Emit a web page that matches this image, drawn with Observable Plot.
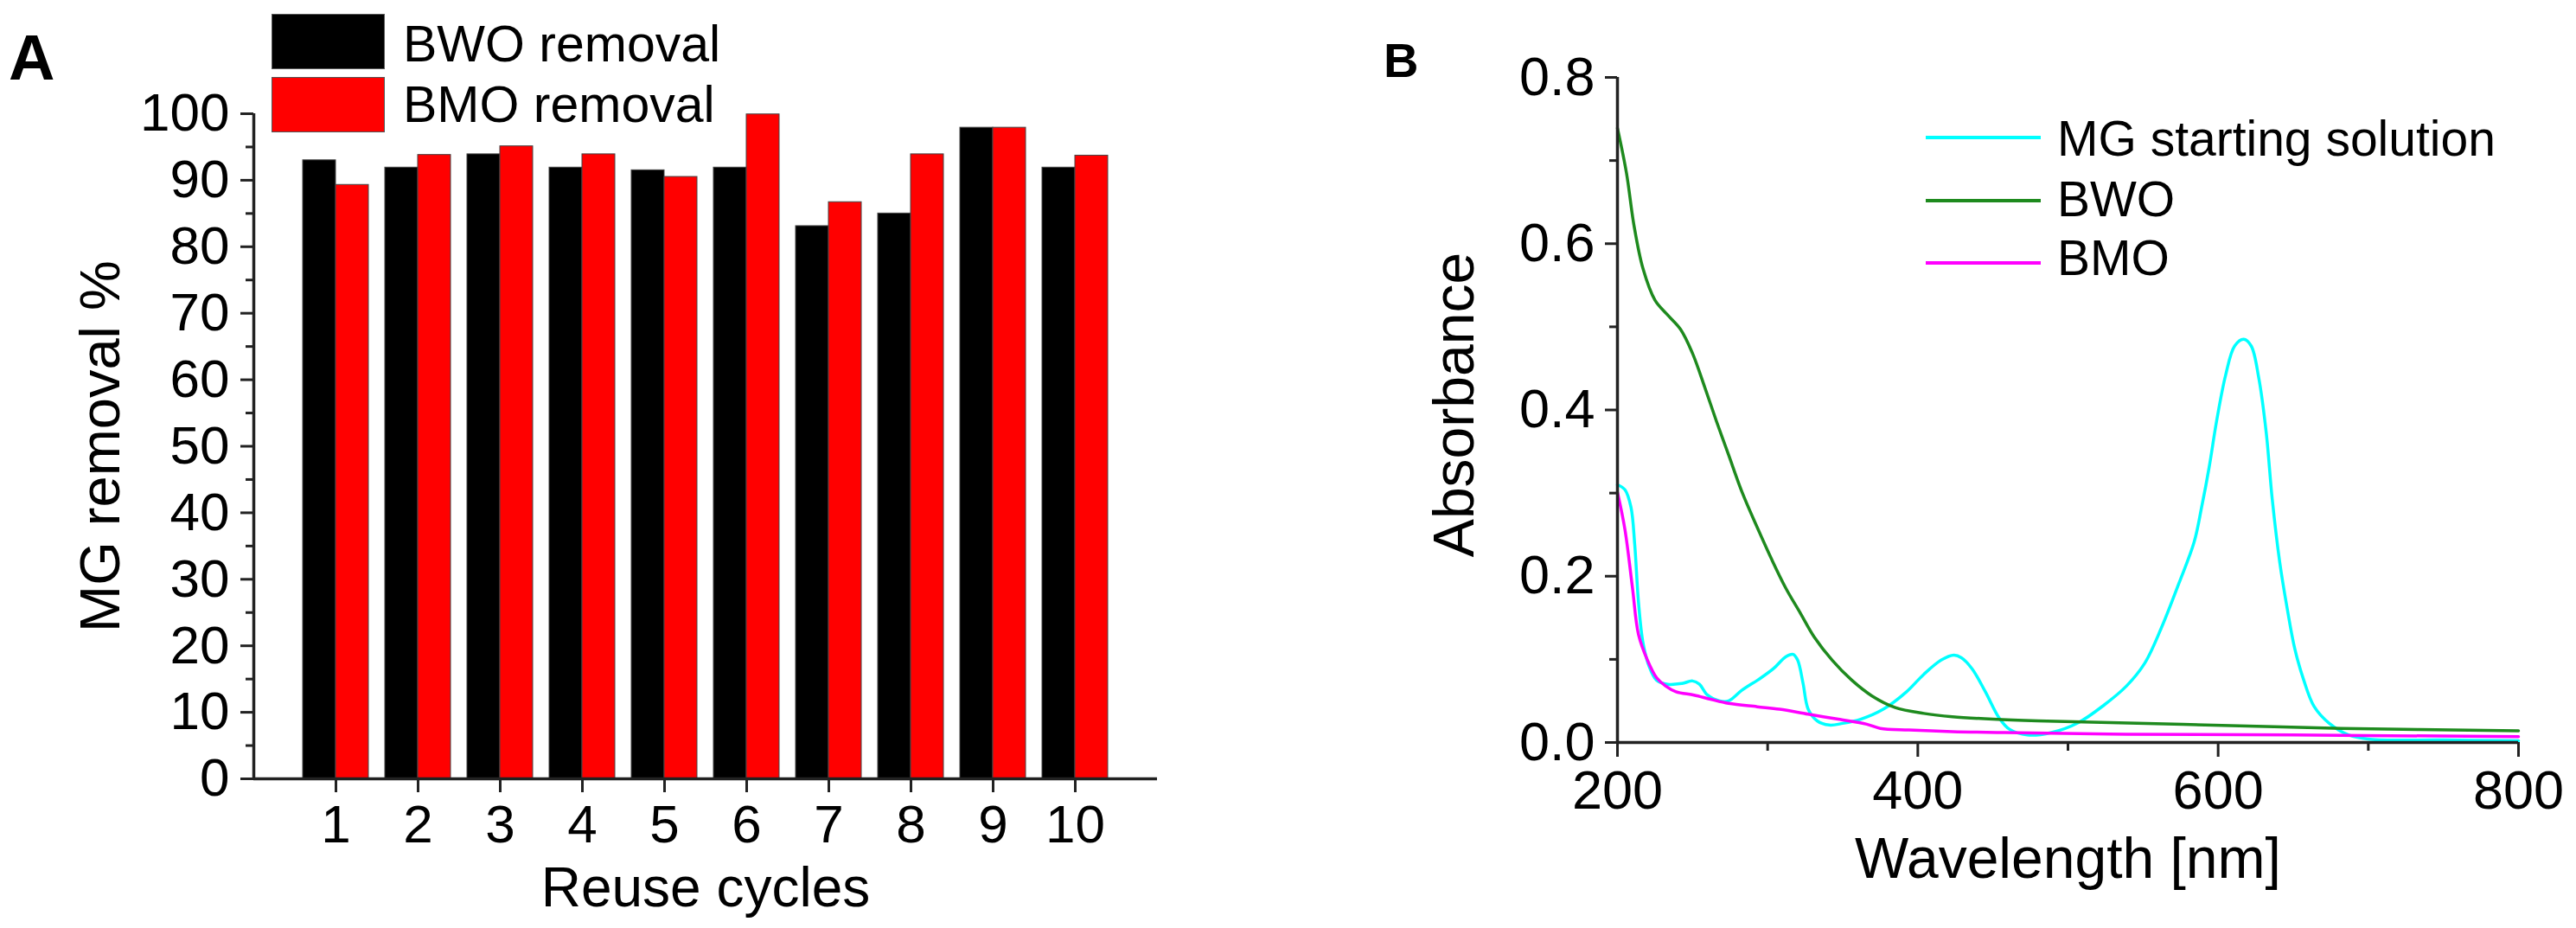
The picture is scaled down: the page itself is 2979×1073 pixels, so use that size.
<!DOCTYPE html>
<html>
<head>
<meta charset="utf-8">
<script src="https://cdn.jsdelivr.net/npm/d3@7"></script>
<script src="https://cdn.jsdelivr.net/npm/@observablehq/plot@0.6"></script>
<style>
  html, body { margin: 0; padding: 0; background: #fff; }
  #root { position: relative; width: 2979px; height: 1073px; overflow: hidden;
          font-family: "Liberation Sans", Arial, sans-serif; color: #000; }
  #panelA { position: absolute; left: 0; top: 0; width: 1480px; height: 1073px; }
  #panelB { position: absolute; left: 1480px; top: 0; width: 1499px; height: 1073px; }
  .lbl { position: absolute; white-space: nowrap; line-height: 1; }
  .box { position: absolute; box-sizing: border-box; border: 1px solid #555; }
  .swatch { position: absolute; height: 4px; }
</style>
</head>
<body>
<div id="root">
  <div id="panelA"></div>
  <div id="panelB"></div>
  <div class="lbl" style="left:10px;top:30px;font-size:74px;font-weight:bold;">A</div>
  <div class="lbl" style="left:1600px;top:42px;font-size:56px;font-weight:bold;">B</div>
  <div id="legendA"></div>
  <div id="legendB"></div>
</div>
<script>
// ---------- Panel A data ----------
const cycles = [1, 2, 3, 4, 5, 6, 7, 8, 9, 10];
const bwoRemoval = [93.0, 91.9, 93.9, 91.9, 91.5, 91.9, 83.1, 85.0, 97.9, 91.9];
const bmoRemoval = [89.3, 93.8, 95.1, 93.9, 90.5, 99.9, 86.7, 93.9, 97.9, 93.7];
const seriesA = ["BWO removal", "BMO removal"];
const colorsA = ["#000000", "#ff0000"];
const yTicksA = [0, 10, 20, 30, 40, 50, 60, 70, 80, 90, 100];
const yMinorA = [5, 15, 25, 35, 45, 55, 65, 75, 85, 95];

// ---------- Panel B data ----------
const mgWavelength = [200, 205, 209, 211.5, 214, 217, 221, 226, 233.5, 243, 250, 254.6, 260, 268, 274, 283, 295, 304, 312, 317, 320, 323.6, 327, 333, 341, 350, 362, 377, 392.5, 404, 415.5, 424, 429, 436, 445, 454, 461, 473, 489, 507, 524, 539, 551, 562, 574, 584, 589, 594, 599, 605, 611, 617, 622, 627, 632, 636, 641, 646, 651, 657, 664, 674, 687, 701, 750, 800];
const mgAbsorbance = [0.310, 0.304, 0.283, 0.238, 0.169, 0.120, 0.092, 0.075, 0.070, 0.071, 0.074, 0.070, 0.057, 0.050, 0.050, 0.063, 0.077, 0.089, 0.103, 0.106, 0.099, 0.071, 0.040, 0.026, 0.021, 0.023, 0.028, 0.040, 0.061, 0.082, 0.099, 0.105, 0.102, 0.089, 0.061, 0.030, 0.016, 0.009, 0.012, 0.024, 0.045, 0.068, 0.095, 0.137, 0.192, 0.241, 0.283, 0.331, 0.387, 0.442, 0.477, 0.485, 0.477, 0.439, 0.373, 0.293, 0.217, 0.161, 0.113, 0.075, 0.043, 0.023, 0.009, 0.004, 0.003, 0.002];

const bwoWavelength = [200, 206, 211, 217, 225, 233, 242, 250, 258, 266, 274, 283, 293, 302.5, 312, 322, 331, 343, 356, 369.5, 385, 404, 423, 450, 480, 528, 614, 682, 800];
const bwoAbsorbance = [0.739, 0.685, 0.622, 0.570, 0.532, 0.515, 0.497, 0.468, 0.428, 0.386, 0.346, 0.301, 0.259, 0.221, 0.186, 0.155, 0.127, 0.099, 0.075, 0.056, 0.042, 0.035, 0.031, 0.028, 0.026, 0.024, 0.020, 0.017, 0.014];

const bmoWavelength = [200, 205, 210, 214, 220, 226, 232, 239, 251, 262, 274, 293, 308, 327, 347, 366, 375, 394, 423, 458, 539, 650, 800];
const bmoAbsorbance = [0.301, 0.256, 0.186, 0.130, 0.099, 0.078, 0.068, 0.061, 0.057, 0.052, 0.047, 0.043, 0.040, 0.034, 0.028, 0.022, 0.017, 0.015, 0.013, 0.012, 0.010, 0.009, 0.007];

const seriesB = ["MG starting solution", "BWO", "BMO"];
const colorsB = ["#00ffff", "#1e8a1e", "#ff00ff"];
const xTicksB = [200, 400, 600, 800];
const xMinorB = [300, 500, 700];
const yTicksB = [0, 0.2, 0.4, 0.6, 0.8];
const yMinorB = [0.1, 0.3, 0.5, 0.7];

// ---------- tables built from the arrays ----------
const barWidth = 0.4;
const barsA = cycles.flatMap((c, i) => [
  {cycle: c, series: seriesA[0], value: bwoRemoval[i], side: -1},
  {cycle: c, series: seriesA[1], value: bmoRemoval[i], side: 0}
]);

const toRows = (name, xs, ys) => xs.map((x, i) => ({series: name, wavelength: x, absorbance: ys[i]}));
const linesB = [
  toRows(seriesB[0], mgWavelength, mgAbsorbance),
  toRows(seriesB[1], bwoWavelength, bwoAbsorbance),
  toRows(seriesB[2], bmoWavelength, bmoAbsorbance)
];

const FONT = "Liberation Sans, Arial, sans-serif";
const AX = "#222";
const titleOpts = {text: d => d, textAnchor: "middle", lineAnchor: "middle", fill: "#000"};

// ---------- Panel A ----------
const plotA = Plot.plot({
  width: 1480, height: 1073,
  marginLeft: 293, marginRight: 142, marginTop: 131, marginBottom: 173,
  style: {background: "transparent", fontFamily: FONT, overflow: "visible", maxWidth: "none"},
  x: {domain: [0, 11], label: null},
  y: {domain: [0, 100], label: null},
  color: {domain: seriesA, range: colorsA},
  marks: [
    Plot.rectY(barsA, {
      x1: d => d.cycle + d.side * barWidth,
      x2: d => d.cycle + (d.side + 1) * barWidth,
      y1: 0, y2: "value",
      fill: "series", stroke: "#444", strokeWidth: 1
    }),
    Plot.axisY({ticks: yTicksA, tickSize: 15, tickPadding: 13, fontSize: 62, stroke: AX, strokeWidth: 3, fill: "#000", label: null}),
    Plot.axisY({ticks: yMinorA, tickSize: 9, tickFormat: () => "", stroke: AX, strokeWidth: 3, label: null}),
    Plot.axisX({ticks: cycles, tickSize: 16, tickPadding: 13, fontSize: 62, stroke: AX, strokeWidth: 3, fill: "#000", label: null}),
    Plot.ruleX([0], {stroke: AX, strokeWidth: 3.5}),
    Plot.ruleY([0], {stroke: AX, strokeWidth: 3.5}),
    Plot.text(["Reuse cycles"], {...titleOpts, frameAnchor: "bottom", dy: 127, fontSize: 64}),
    Plot.text(["MG removal %"], {...titleOpts, frameAnchor: "left", dx: -176, rotate: -90, fontSize: 65})
  ]
});
document.getElementById("panelA").appendChild(plotA);

// ---------- Panel B ----------
const plotB = Plot.plot({
  width: 1499, height: 1073,
  marginLeft: 390, marginRight: 67, marginTop: 89, marginBottom: 215,
  style: {background: "transparent", fontFamily: FONT, overflow: "visible", maxWidth: "none"},
  x: {domain: [200, 800], label: null},
  y: {domain: [0, 0.8], label: null},
  marks: [
    ...linesB.map((rows, k) => Plot.line(rows, {
      x: "wavelength", y: "absorbance", stroke: colorsB[k], strokeWidth: 3.5, curve: "catmull-rom"
    })),
    Plot.axisY({ticks: yTicksB, tickFormat: d3.format(".1f"), tickSize: 14, tickPadding: 12, fontSize: 63, stroke: AX, strokeWidth: 3, fill: "#000", label: null}),
    Plot.axisY({ticks: yMinorB, tickSize: 9, tickFormat: () => "", stroke: AX, strokeWidth: 3, label: null}),
    Plot.axisX({ticks: xTicksB, tickSize: 17, tickPadding: 15, fontSize: 63, stroke: AX, strokeWidth: 3, fill: "#000", label: null}),
    Plot.axisX({ticks: xMinorB, tickSize: 10, tickFormat: () => "", stroke: AX, strokeWidth: 3, label: null}),
    Plot.ruleX([200], {stroke: AX, strokeWidth: 3.5}),
    Plot.ruleY([0], {stroke: AX, strokeWidth: 3.5}),
    Plot.text(["Wavelength [nm]"], {...titleOpts, frameAnchor: "bottom", dy: 135, fontSize: 66}),
    Plot.text(["Absorbance"], {...titleOpts, frameAnchor: "left", dx: -188, dy: -6, rotate: -90, fontSize: 66})
  ]
});
document.getElementById("panelB").appendChild(plotB);

// ---------- Legends (HTML) ----------
const legA = document.getElementById("legendA");
seriesA.forEach((name, i) => {
  const box = document.createElement("div");
  box.className = "box";
  box.style.cssText = `left:314px;top:${16 + i * 73}px;width:131px;height:64px;background:${colorsA[i]};`;
  legA.appendChild(box);
  const t = document.createElement("div");
  t.className = "lbl";
  t.style.cssText = `left:466px;top:${22 + i * 70}px;font-size:59px;`;
  t.textContent = name;
  legA.appendChild(t);
});

const legB = document.getElementById("legendB");
const legBTop = [132, 202, 270];
const legBLine = [157, 230, 302];
seriesB.forEach((name, i) => {
  const sw = document.createElement("div");
  sw.className = "swatch";
  sw.style.cssText = `left:2227px;top:${legBLine[i]}px;width:133px;background:${colorsB[i]};`;
  legB.appendChild(sw);
  const t = document.createElement("div");
  t.className = "lbl";
  t.style.cssText = `left:2379px;top:${legBTop[i]}px;font-size:57px;`;
  t.textContent = name;
  legB.appendChild(t);
});
</script>
</body>
</html>
